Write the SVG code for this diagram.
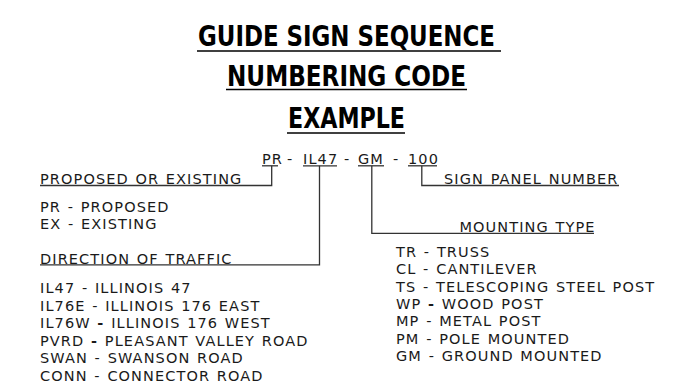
<svg xmlns="http://www.w3.org/2000/svg" width="685" height="391" viewBox="0 0 685 391">
<style>
.t{font-family:"Liberation Sans Narrow","DejaVu Sans Condensed","Liberation Sans",sans-serif;font-weight:bold;font-size:29px;fill:#000}
.b{font-family:"DejaVu Sans","Noto Sans",sans-serif;font-size:14.5px;fill:#1a1a1a;letter-spacing:1.1px;word-spacing:1px}
.hb{font-weight:bold}
.ul{stroke:#000;stroke-width:1.5;fill:none}
.c{stroke:#333;stroke-width:1.3;fill:none}
</style>
<rect width="685" height="391" fill="#fff"/>
<g id="title">
<text class="t" x="198" y="46" textLength="297" lengthAdjust="spacingAndGlyphs">GUIDE SIGN SEQUENCE</text>
<line class="ul" x1="197" y1="51" x2="501" y2="51"/>
<text class="t" x="227" y="86" textLength="239" lengthAdjust="spacingAndGlyphs">NUMBERING CODE</text>
<line class="ul" x1="226" y1="89.5" x2="467" y2="89.5"/>
<text class="t" x="288" y="128" textLength="117" lengthAdjust="spacingAndGlyphs">EXAMPLE</text>
<line class="ul" x1="287" y1="133" x2="405" y2="133"/>
</g>
<g id="code">
<text class="b" x="262" y="164">PR</text>
<text class="b" x="287" y="164">-</text>
<text class="b" x="303" y="164">IL47</text>
<text class="b" x="344" y="164">-</text>
<text class="b" x="358" y="164">GM</text>
<text class="b" x="393" y="164">-</text>
<text class="b" x="408" y="164">100</text>
</g>
<g id="node-proposed">
<text class="b" x="40" y="184">PROPOSED OR EXISTING</text>
<text class="b" x="40" y="211.5">PR - PROPOSED</text>
<text class="b" x="40" y="228.5">EX - EXISTING</text>
</g>
<g id="node-direction">
<text class="b" x="40" y="263.5">DIRECTION OF TRAFFIC</text>
<text class="b" x="40" y="293.3">IL47 - ILLINOIS 47</text>
<text class="b" x="40" y="310.8">IL76E - ILLINOIS 176 EAST</text>
<text class="b" x="40" y="328.3">IL76W <tspan class="hb">-</tspan> ILLINOIS 176 WEST</text>
<text class="b" x="40" y="345.8">PVRD <tspan class="hb">-</tspan> PLEASANT VALLEY ROAD</text>
<text class="b" x="40" y="363.3">SWAN - SWANSON ROAD</text>
<text class="b" x="40" y="380.8">CONN - CONNECTOR ROAD</text>
</g>
<g id="node-mounting">
<text class="b" x="459.5" y="232">MOUNTING TYPE</text>
<text class="b" x="396" y="256.7">TR - TRUSS</text>
<text class="b" x="396" y="274">CL - CANTILEVER</text>
<text class="b" x="396" y="291.5">TS - TELESCOPING STEEL POST</text>
<text class="b" x="396" y="308.8">WP <tspan class="hb">-</tspan> WOOD POST</text>
<text class="b" x="396" y="326.2">MP - METAL POST</text>
<text class="b" x="396" y="343.6">PM - POLE MOUNTED</text>
<text class="b" x="396" y="361">GM - GROUND MOUNTED</text>
</g>
<g id="node-panel">
<text class="b" x="444" y="184">SIGN PANEL NUMBER</text>
</g>
<g id="connectors">
<line class="c" x1="262" y1="165.8" x2="278" y2="165.8"/>
<line class="c" x1="303" y1="165.8" x2="337" y2="165.8"/>
<line class="c" x1="358" y1="165.8" x2="384" y2="165.8"/>
<line class="c" x1="408" y1="165.8" x2="437" y2="165.8"/>
<polyline class="c" points="40,185.5 271.7,185.5 271.7,165.8"/>
<polyline class="c" points="40,264.8 319.5,264.8 319.5,165.8"/>
<polyline class="c" points="371.8,165.8 371.8,233.3 594,233.3"/>
<polyline class="c" points="421.8,165.8 421.8,185.5 619,185.5"/>
</g>
</svg>
